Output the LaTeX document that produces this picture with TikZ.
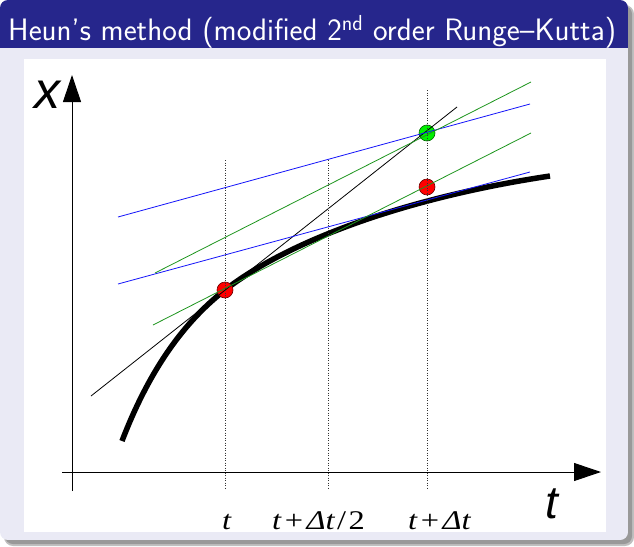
\documentclass[tikz,border=0pt]{standalone}
\usepackage{fontspec}
\newfontfamily\lsans{Liberation Sans}
\newfontfamily\lserif{Liberation Serif}
\usetikzlibrary{arrows.meta}
\definecolor{titlebg}{RGB}{38,38,140}
\definecolor{bodybg}{RGB}{234,234,245}
\definecolor{lgreen}{RGB}{0,240,0}
\definecolor{lnblue}{RGB}{20,20,250}
\definecolor{lngreen}{RGB}{30,150,30}
\tikzset{
  thinln/.style={line width=0.8pt},
  guide/.style={dash pattern=on 1pt off 1.5pt, line width=0.8pt, black!80},
  axis/.style={line width=1pt, -{Triangle[length=27pt,width=18pt]}},
  dot/.style={circle, inner sep=0pt, minimum size=16pt, line width=0.6pt},
  axlabel/.style={font=\lsans\itshape\fontsize{52}{56}\selectfont, inner sep=0pt},
  tlabel/.style={font=\lserif\fontsize{27}{30}\selectfont, inner sep=0pt, anchor=base west}
}
\begin{document}
\begin{tikzpicture}[x=1pt,y=-1pt]
\useasboundingbox (0,0) rectangle (634,546);
% shadow
\fill[black!25, rounded corners=9pt] (4,5) rectangle (634,546);
\fill[black!40, rounded corners=8pt] (5,6) rectangle (632,544);
% block
\begin{scope}
  \clip[rounded corners=8pt] (0,0) rectangle (628,540);
  \fill[bodybg] (0,0) rectangle (628,540);
  \fill[titlebg] (0,0) rectangle (628,48);
\end{scope}
\node[anchor=base west, text=white, inner sep=0pt,
      font=\sffamily\fontsize{31}{36}\selectfont] (title) at (8,40)
  {Heun's method (modified 2\textsuperscript{nd} order Runge--Kutta)};
% plot area
\fill[white] (24,59) rectangle (606,532);
% curve
\draw[line width=5.5pt] (122,441) .. controls (147,376) and (180,325) .. (225,290)
   .. controls (285,243.2) and (400,198.5) .. (550,176);
% points
\node[dot, fill=red, draw=black!60!red] (p0) at (225,290) {};
\node[dot, fill=red, draw=black!60!red] (p1) at (427,187) {};
\node[dot, fill=lgreen, draw=black!60!green] (p2) at (427,133) {};
% lines
\draw[thinln, black] (91,396) -- (457,107);
\draw[thinln, lnblue] (118,217) -- (530,104);
\draw[thinln, lnblue] (118,284) -- (530,172);
\draw[thinln, lngreen] (155,273) -- (531,82);
\draw[thinln, lngreen] (153,325) -- (531,133);
% guides
\coordinate (g0t) at (225,160); \coordinate (g0b) at (225,490);
\coordinate (g1t) at (328,160); \coordinate (g1b) at (328,490);
\coordinate (g2t) at (427,90);  \coordinate (g2b) at (427,490);
\draw[guide] (g0t) -- (g0b);
\draw[guide] (g1t) -- (g1b);
\draw[guide] (g2t) -- (g2b);
% axes
\coordinate (yb) at (72,491); \coordinate (yt) at (72,75);
\coordinate (xl) at (62,472); \coordinate (xr) at (601,472);
\draw[axis] (yb) -- (yt);
\draw[axis] (xl) -- (xr);
\node[axlabel, anchor=base] (xlab) at (47,108) {x};
\node[axlabel, anchor=base, font=\lsans\itshape\fontsize{46}{50}\selectfont] (tlab) at (552,518) {t};
% tick labels
\node[tlabel] (l0) at (222,529) {\scalebox{1.2}[1]{\itshape t}};
\node[tlabel] (l1) at (272,529) {\scalebox{1.2}[1]{\itshape t\kern3pt{\upshape +}\kern3pt Δt\kern2pt{\upshape /}\kern2pt{\upshape 2}}};
\node[tlabel] (l2) at (408,529) {\scalebox{1.2}[1]{\itshape t\kern3pt{\upshape +}\kern3pt Δt}};
\end{tikzpicture}
\end{document}
